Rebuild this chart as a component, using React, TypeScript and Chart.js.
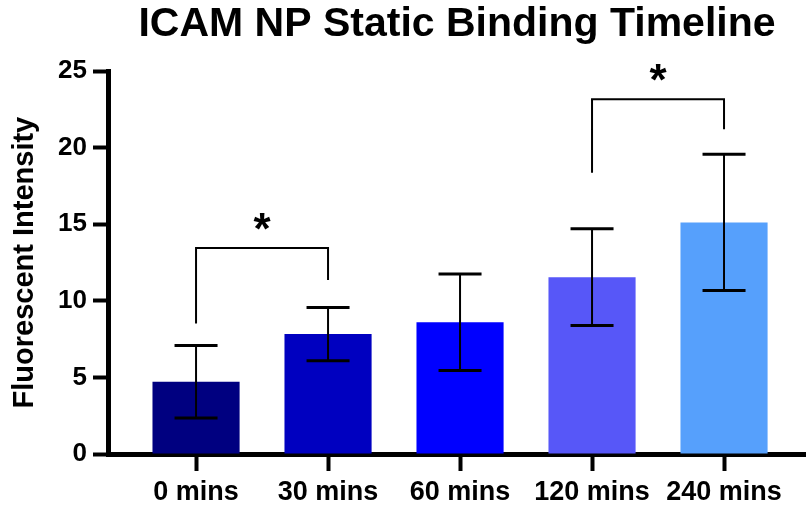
import React, { useEffect, useRef } from "react";
import { Chart, registerables } from "chart.js";

Chart.register(...registerables);

const FONT = "'Liberation Sans', Arial, Helvetica, sans-serif";

const chartTitle = "ICAM NP Static Binding Timeline";
const yAxisTitle = "Fluorescent Intensity";
const categories = ["0 mins", "30 mins", "60 mins", "120 mins", "240 mins"];
const means = [4.72, 7.83, 8.6, 11.55, 15.12];
const errors = [2.37, 1.74, 3.15, 3.16, 4.45];
const barColors = ["#000080", "#0000C0", "#0000FF", "#5757F8", "#56A0FC"];
const yTicks = [0, 5, 10, 15, 20, 25];

// significance comparisons (indices into categories, heights in data units)
const bracketFrom = [0, 3];
const bracketTo = [1, 4];
const bracketTop = [13.45, 23.17];
const bracketLeftFoot = [8.53, 18.36];
const bracketRightFoot = [11.36, 21.21];
const bracketLabels = ["*", "*"];

const errorBarPlugin = {
  id: "errorBars",
  afterDatasetsDraw(chart: any) {
    const { ctx, scales } = chart;
    const xs = scales.x;
    const ys = scales.y;
    ctx.save();
    ctx.strokeStyle = "#000";
    means.forEach((m, i) => {
      const x = xs.getPixelForValue(i);
      const yHi = ys.getPixelForValue(m + errors[i]);
      const yLo = ys.getPixelForValue(m - errors[i]);
      ctx.lineWidth = 2;
      ctx.beginPath();
      ctx.moveTo(x, yHi);
      ctx.lineTo(x, yLo);
      ctx.stroke();
      ctx.lineWidth = 3;
      ctx.beginPath();
      ctx.moveTo(x - 21.5, yHi);
      ctx.lineTo(x + 21.5, yHi);
      ctx.moveTo(x - 21.5, yLo);
      ctx.lineTo(x + 21.5, yLo);
      ctx.stroke();
    });
    ctx.restore();
  },
  afterDraw(chart: any) {
    const { ctx, scales } = chart;
    const xs = scales.x;
    const ys = scales.y;
    ctx.save();
    ctx.strokeStyle = "#000";
    ctx.fillStyle = "#000";
    ctx.lineWidth = 2;
    bracketFrom.forEach((from, k) => {
      const x1 = xs.getPixelForValue(from);
      const x2 = xs.getPixelForValue(bracketTo[k]);
      const yT = ys.getPixelForValue(bracketTop[k]);
      const yL = ys.getPixelForValue(bracketLeftFoot[k]);
      const yR = ys.getPixelForValue(bracketRightFoot[k]);
      ctx.beginPath();
      ctx.moveTo(x1, yL);
      ctx.lineTo(x1, yT);
      ctx.lineTo(x2, yT);
      ctx.lineTo(x2, yR);
      ctx.stroke();
      ctx.font = `bold 44px ${FONT}`;
      ctx.textAlign = "center";
      ctx.textBaseline = "alphabetic";
      const m = ctx.measureText(bracketLabels[k]);
      const asc = m.actualBoundingBoxAscent;
      const desc = m.actualBoundingBoxDescent;
      const centerY = yT - 27;
      const baseline = centerY + (asc - desc) / 2;
      ctx.fillText(bracketLabels[k], (x1 + x2) / 2, baseline);
    });
    ctx.restore();
  },
};

export default function App() {
  const canvasRef = useRef<HTMLCanvasElement | null>(null);

  useEffect(() => {
    if (!canvasRef.current) return;
    const chart = new Chart(canvasRef.current, {
      type: "bar",
      data: {
        datasets: [
          {
            data: means.map((v, i) => ({ x: i, y: v })),
            backgroundColor: barColors,
            borderWidth: 0,
            barPercentage: 0.66,
            categoryPercentage: 1,
          },
        ],
      },
      options: {
        responsive: false,
        animation: false,
        devicePixelRatio: 1,
        layout: { padding: 0 },
        plugins: {
          legend: { display: false },
          tooltip: { enabled: false },
          title: {
            display: true,
            text: chartTitle,
            fullSize: false,
            color: "#000",
            font: { family: FONT, size: 41, weight: "bold" },
            padding: { top: 0, bottom: 22 },
          },
        },
        scales: {
          x: {
            type: "linear",
            offset: false,
            min: -0.667,
            max: 4.621,
            afterBuildTicks: (s: any) => {
              s.ticks = categories.map((_, i) => ({ value: i }));
            },
            afterFit: (s: any) => {
              s.height = 56;
            },
            ticks: {
              callback: (v: any) => categories[v],
              color: "#000",
              font: { family: FONT, size: 27, weight: "bold" },
              padding: 5,
              autoSkip: false,
              maxRotation: 0,
            },
            grid: {
              offset: false,
              drawOnChartArea: false,
              tickLength: 17,
              tickWidth: 4,
              tickColor: "#000",
            },
            border: { color: "#000", width: 5 },
          },
          y: {
            min: 0,
            max: 25,
            afterBuildTicks: (s: any) => {
              s.ticks = yTicks.map((v) => ({ value: v }));
            },
            afterFit: (s: any) => {
              s.width = 108;
            },
            ticks: {
              color: "#000",
              font: { family: FONT, size: 26, weight: "bold" },
              padding: 6,
            },
            grid: {
              drawOnChartArea: false,
              tickLength: 15,
              tickWidth: 4,
              tickColor: "#000",
            },
            border: { color: "#000", width: 5 },
            title: {
              display: true,
              text: yAxisTitle,
              color: "#000",
              font: { family: FONT, size: 29, weight: "bold" },
              padding: { top: 8, bottom: 0 },
            },
          },
        },
      },
      plugins: [errorBarPlugin],
    } as any);
    return () => chart.destroy();
  }, []);

  return (
    <canvas
      ref={canvasRef}
      width={806}
      height={510}
      style={{ position: "fixed", left: 0, top: 0, width: 806, height: 510, background: "#fff" }}
    />
  );
}
